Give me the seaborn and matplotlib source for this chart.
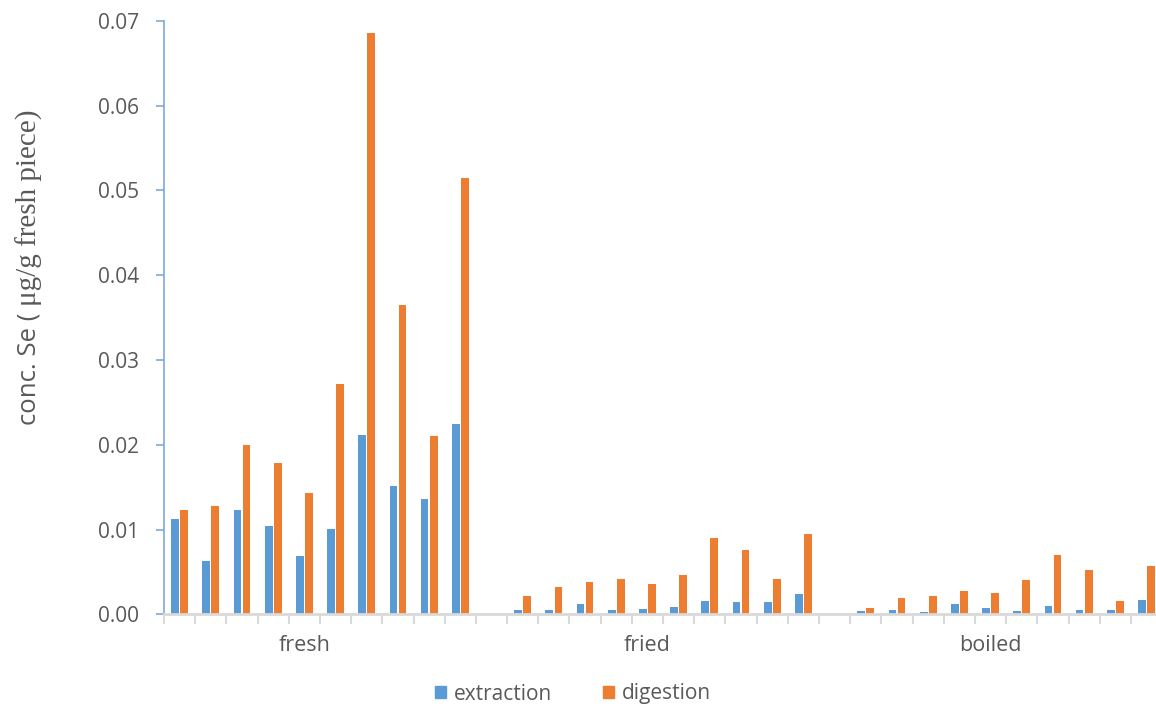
import pandas as pd
import matplotlib.pyplot as plt
import seaborn as sns
import numpy as np

sns.set_theme(style="white")
plt.rcParams['font.family'] = ['Open Sans', 'DejaVu Sans']

# Data
groups = ['fresh', 'fried', 'boiled']
methods = ['extraction', 'digestion']

fresh_extraction = [0.01126, 0.00626, 0.01229, 0.01047, 0.00693, 0.01005, 0.02116, 0.01513, 0.01355, 0.02246]
fresh_digestion = [0.01229, 0.01277, 0.01998, 0.01788, 0.01430, 0.02710, 0.06856, 0.03648, 0.02104, 0.05145]
fried_extraction = [0.00051, 0.00051, 0.00118, 0.00051, 0.00067, 0.00087, 0.00154, 0.00150, 0.00150, 0.00240]
fried_digestion = [0.00213, 0.00323, 0.00378, 0.00422, 0.00359, 0.00469, 0.00902, 0.00760, 0.00422, 0.00946]
boiled_extraction = [0.00035, 0.00055, 0.00024, 0.00118, 0.00075, 0.00043, 0.00095, 0.00055, 0.00047, 0.00169]
boiled_digestion = [0.00075, 0.00189, 0.00213, 0.00280, 0.00252, 0.00402, 0.00701, 0.00520, 0.00158, 0.00575]

values = {
    ('fresh', 'extraction'): fresh_extraction, ('fresh', 'digestion'): fresh_digestion,
    ('fried', 'extraction'): fried_extraction, ('fried', 'digestion'): fried_digestion,
    ('boiled', 'extraction'): boiled_extraction, ('boiled', 'digestion'): boiled_digestion,
}

# Long table; an empty slot separates each group
rows = []
order = []
for gi, g in enumerate(groups):
    if gi > 0:
        order.append(f'gap{gi}')
    for i in range(10):
        slot = f'{g}{i + 1}'
        order.append(slot)
        for m in methods:
            rows.append({'slot': slot, 'method': m, 'value': values[(g, m)][i]})
df = pd.DataFrame(rows)

colors = {'extraction': '#5B9BD5', 'digestion': '#ED7D31'}
text_color = '#595959'

fig = plt.figure(figsize=(11.56, 7.06), dpi=100)
ax = fig.add_axes([164 / 1156, 91.7 / 706, 998.1 / 1156, 593.6 / 706])

sns.barplot(data=df, x='slot', y='value', hue='method', order=order,
            hue_order=methods, palette=colors, saturation=1, width=0.58, gap=0.14,
            linewidth=0, ax=ax, legend=False)

ax.set_xlim(-0.5, len(order) - 0.5)
ax.set_ylim(0, 0.07)
ax.set_yticks(np.arange(0, 0.071, 0.01))
ax.set_yticklabels(['0.00'] + [f'{v:.2f}' for v in np.arange(0.01, 0.071, 0.01)])
ax.set_xticks(np.arange(-0.5, len(order), 1))
ax.set_xticklabels([])
ax.set_xlabel('')
ax.set_ylabel('')

for s in ['top', 'right']:
    ax.spines[s].set_visible(False)
ax.spines['left'].set_color('#7FA9DA')
ax.spines['left'].set_linewidth(1.2)
ax.spines['bottom'].set_color('#D9D9D9')
ax.spines['bottom'].set_linewidth(2)
ax.tick_params(axis='y', which='both', left=True, length=6, width=1.2, color='#7FA9DA',
               labelcolor=text_color, labelsize=15, pad=12)
ax.tick_params(axis='x', bottom=True, length=7, width=1.5, color='#D9D9D9', direction='out')

# Group labels below the axis
label_pos = {'fresh': 4, 'fried': 15, 'boiled': 26}
for g in groups:
    ax.text(label_pos[g], -0.0037, g, ha='center', va='center', fontsize=15.5, color=text_color)

# Y label: sans part and serif part
fig.text(29 / 1156, 1 - 425 / 706, 'conc. Se (', rotation=90, ha='center', va='bottom',
         fontsize=18.5, color=text_color)
fig.text(29 / 1156, 1 - 306 / 706, 'μg/g fresh piece)', rotation=90, ha='center', va='bottom',
         fontsize=21, color=text_color, family=['Liberation Serif', 'DejaVu Serif'])

handles = [plt.Rectangle((0, 0), 1, 1, color=colors[m]) for m in methods]
fig.legend(handles, methods, loc='center', bbox_to_anchor=(573 / 1156, 12 / 706), ncol=2,
           frameon=False, fontsize=15, handlelength=0.55, handleheight=0.55,
           handletextpad=0.4, columnspacing=2.4, labelcolor=text_color)

plt.savefig('out.png', dpi=100)
plt.close()
